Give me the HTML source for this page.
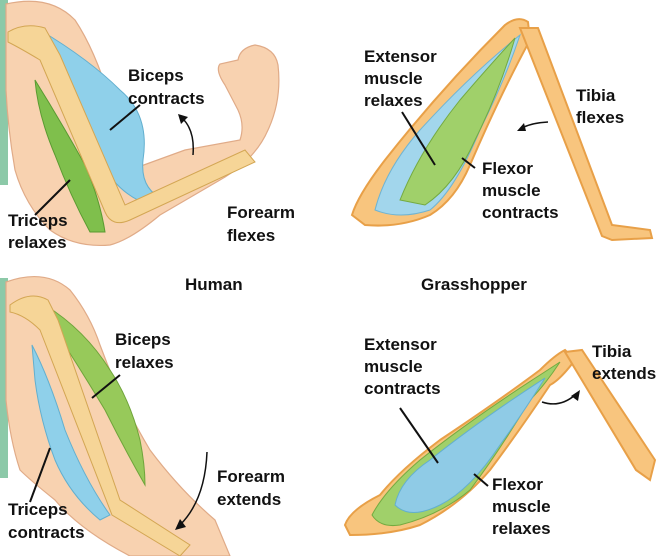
<!DOCTYPE html>
<html><head><meta charset="utf-8"><style>
html,body{margin:0;padding:0;background:#fff;}
svg{display:block;}
text{font-family:"Liberation Sans",sans-serif;font-weight:bold;font-size:17px;fill:#111;}
</style></head><body>
<svg width="658" height="556" viewBox="0 0 658 556" xmlns="http://www.w3.org/2000/svg">
<!-- TOP LEFT ARM -->
<rect x="0" y="0" width="8" height="185" fill="#8cc9a8"/>
<path d="M6,4 Q50,-6 75,20 Q95,50 110,100 Q125,130 130,170 L185,150 L240,140 Q245,125 238,110 L225,85 Q215,70 220,64 L238,60 Q240,48 255,45 Q275,48 278,65 Q282,100 268,130 Q255,160 220,180 L160,215 Q130,240 110,245 Q75,248 50,230 Q25,205 15,170 Q8,130 6,90 Z" fill="#f8d2b0" stroke="#e0ab88" stroke-width="1.2"/>
<path d="M40,30 Q90,60 120,90 Q150,115 143,160 Q140,190 165,200 L150,205 Q118,195 100,160 Q80,110 55,70 Q40,45 40,30 Z" fill="#8fd0ea" stroke="#62afcf"/>
<path d="M35,80 Q60,120 85,165 Q100,200 105,232 L90,232 Q70,195 55,155 Q38,115 35,80 Z" fill="#7fbf4c" stroke="#5a9a30"/>
<path d="M8,32 Q25,22 45,28 L60,55 L125,205 L245,150 L255,162 L130,220 Q112,228 105,212 L40,60 Q20,48 8,42 Z" fill="#f6d597" stroke="#d3a653"/>
<line x1="110" y1="130" x2="140" y2="105" stroke="#111" stroke-width="2"/>
<line x1="35" y1="215" x2="70" y2="180" stroke="#111" stroke-width="2"/>
<path d="M193,155 Q195,130 182,118" fill="none" stroke="#111" stroke-width="1.5"/>
<polygon points="178,114 188,117 181,124" fill="#111"/>
<text x="128" y="81">Biceps</text><text x="128" y="104">contracts</text>
<text x="8" y="226">Triceps</text><text x="8" y="248">relaxes</text>
<text x="227" y="218">Forearm</text><text x="227" y="241">flexes</text>

<!-- TOP RIGHT GRASSHOPPER -->
<path d="M352,215 Q358,195 385,160 Q440,90 505,25 Q518,15 528,22 L530,40 Q500,95 470,165 Q455,200 430,215 Q400,228 365,225 Z" fill="#f8c57e" stroke="#e8a048" stroke-width="2"/>
<path d="M375,210 Q385,170 420,130 Q470,75 520,35 Q505,80 480,130 Q455,190 430,210 Q400,220 375,210 Z" fill="#a2d6ec" stroke="#70b4d2"/>
<path d="M400,200 Q420,150 460,100 Q490,65 515,38 Q500,90 475,140 Q455,185 425,205 Z" fill="#a0d06a" stroke="#74aa40"/>
<path d="M520,28 L538,28 L612,225 L650,230 L652,238 L612,240 L602,236 Z" fill="#f8c57e" stroke="#e8a048" stroke-width="2"/>
<line x1="402" y1="112" x2="435" y2="165" stroke="#111" stroke-width="2"/>
<line x1="475" y1="168" x2="462" y2="158" stroke="#111" stroke-width="2"/>
<path d="M548,122 Q530,123 520,129" fill="none" stroke="#111" stroke-width="1.5"/>
<polygon points="517,131 524,123 526,131" fill="#111"/>
<text x="364" y="62">Extensor</text><text x="364" y="84">muscle</text><text x="364" y="106">relaxes</text>
<text x="482" y="174">Flexor</text><text x="482" y="196">muscle</text><text x="482" y="218">contracts</text>
<text x="576" y="101">Tibia</text><text x="576" y="123">flexes</text>

<text x="185" y="290">Human</text>
<text x="421" y="290">Grasshopper</text>

<!-- BOTTOM LEFT ARM -->
<rect x="0" y="278" width="8" height="200" fill="#8cc9a8"/>
<path d="M6,282 Q45,268 70,290 Q90,315 100,345 Q120,400 150,450 Q180,490 215,520 L230,556 L130,556 Q80,530 55,500 Q30,480 20,470 Q10,440 6,400 Z" fill="#f8d2b0" stroke="#e0ab88" stroke-width="1.2"/>
<path d="M32,345 Q50,380 65,430 Q85,480 110,515 L100,520 Q70,495 55,460 Q40,420 35,380 Z" fill="#8fd0ea" stroke="#62afcf"/>
<path d="M45,305 Q85,330 110,370 Q130,400 140,440 Q145,465 145,485 Q125,450 105,410 Q75,360 45,315 Z" fill="#97c95a" stroke="#6fa43a"/>
<path d="M10,305 Q30,290 48,300 L58,320 L120,500 L190,545 L180,556 L112,515 L40,330 Q25,315 10,312 Z" fill="#f6d597" stroke="#d3a653"/>
<line x1="92" y1="398" x2="120" y2="375" stroke="#111" stroke-width="2"/>
<line x1="30" y1="502" x2="50" y2="448" stroke="#111" stroke-width="2"/>
<path d="M207,452 Q205,500 180,525" fill="none" stroke="#111" stroke-width="1.5"/>
<polygon points="175,530 180,519 186,527" fill="#111"/>
<text x="115" y="345">Biceps</text><text x="115" y="368">relaxes</text>
<text x="8" y="515">Triceps</text><text x="8" y="538">contracts</text>
<text x="217" y="482">Forearm</text><text x="217" y="505">extends</text>

<!-- BOTTOM RIGHT GRASSHOPPER -->
<path d="M345,525 Q350,510 380,495 Q400,470 440,440 Q500,400 540,370 Q555,355 565,350 L575,360 Q560,380 550,385 Q520,430 490,470 Q460,505 420,525 Q390,535 350,535 Z" fill="#f8c57e" stroke="#e8a048" stroke-width="2"/>
<path d="M372,515 Q385,490 420,460 Q470,420 540,375 L560,362 Q545,385 530,400 Q500,450 470,490 Q440,515 400,525 Q380,528 372,515 Z" fill="#a0d06a" stroke="#74aa40"/>
<path d="M395,505 Q400,480 430,460 Q480,420 545,378 Q525,410 500,445 Q470,490 440,505 Q410,520 395,505 Z" fill="#8fcbe6" stroke="#62afcf"/>
<path d="M565,352 L582,350 L655,460 L650,480 L636,470 Z" fill="#f8c57e" stroke="#e8a048" stroke-width="2"/>
<line x1="400" y1="408" x2="438" y2="463" stroke="#111" stroke-width="2"/>
<line x1="488" y1="486" x2="474" y2="474" stroke="#111" stroke-width="2"/>
<path d="M542,402 Q560,408 575,395" fill="none" stroke="#111" stroke-width="1.5"/>
<polygon points="580,390 578,401 571,396" fill="#111"/>
<text x="364" y="350">Extensor</text><text x="364" y="372">muscle</text><text x="364" y="394">contracts</text>
<text x="492" y="490">Flexor</text><text x="492" y="512">muscle</text><text x="492" y="534">relaxes</text>
<text x="592" y="357">Tibia</text><text x="592" y="379">extends</text>
</svg>
</body></html>
